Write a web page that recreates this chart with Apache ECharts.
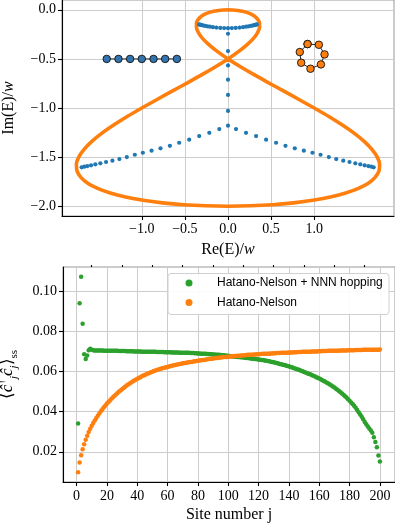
<!DOCTYPE html>
<html><head><meta charset="utf-8">
<script src="https://cdn.jsdelivr.net/npm/echarts@6/dist/echarts.min.js"></script>
<style>html,body{margin:0;padding:0;background:#fff}#c{width:395px;height:524px}</style>
</head><body><div id="c"></div>
<script>
// ---- top panel: complex spectrum ----
const pbcRe = [0,-0.086,-0.168,-0.241,-0.301,-0.343,-0.366,-0.366,-0.342,-0.293,-0.219,-0.121,0,0.140,0.297,0.466,0.643,0.823,1.0,1.170,1.327,1.466,1.583,1.672,1.732,1.759,1.751,1.707,1.628,1.513,1.366,1.189,0.985,0.759,0.516,0.261,0,
 -0.261,-0.516,-0.759,-0.985,-1.189,-1.366,-1.513,-1.628,-1.707,-1.751,-1.759,-1.732,-1.672,-1.583,-1.466,-1.327,-1.170,-1.0,-0.823,-0.643,-0.466,-0.297,-0.140,0,0.121,0.219,0.293,0.342,0.366,0.366,0.343,0.301,0.241,0.168,0.086,0];
const pbcIm = [0,-0.004,-0.015,-0.034,-0.060,-0.094,-0.134,-0.181,-0.234,-0.293,-0.357,-0.426,-0.5,-0.577,-0.658,-0.741,-0.826,-0.913,-1.0,-1.087,-1.174,-1.259,-1.342,-1.423,-1.5,-1.574,-1.643,-1.707,-1.766,-1.819,-1.866,-1.906,-1.940,-1.966,-1.985,-1.996,-2.0,
 -1.996,-1.985,-1.966,-1.940,-1.906,-1.866,-1.819,-1.766,-1.707,-1.643,-1.574,-1.5,-1.423,-1.342,-1.259,-1.174,-1.087,-1.0,-0.913,-0.826,-0.741,-0.658,-0.577,-0.5,-0.426,-0.357,-0.293,-0.234,-0.181,-0.134,-0.094,-0.060,-0.034,-0.015,-0.004,0];

const arcRe = [-0.335,-0.327,-0.316,-0.302,-0.285,-0.265,-0.24,-0.21,-0.175,-0.135,-0.09,-0.045,0,0.045,0.09,0.135,0.175,0.21,0.24,0.265,0.285,0.302,0.316,0.327,0.335];
const arcIm = [-0.149,-0.151,-0.153,-0.156,-0.160,-0.163,-0.168,-0.172,-0.177,-0.181,-0.184,-0.186,-0.187,-0.186,-0.184,-0.181,-0.177,-0.172,-0.168,-0.163,-0.160,-0.156,-0.153,-0.151,-0.149];
const stemRe = [0,0,0,0,0,0,0];
const stemIm = [-0.244,-0.42,-0.566,-0.711,-0.867,-1.03,-1.18];
const rightBranchRe = [0.093,0.209,0.326,0.442,0.558,0.667,0.775,0.88,0.98,1.074,1.17,1.256,1.337,1.41,1.477,1.535,1.585,1.628,1.663,1.69];
const leftBranchRe = [-0.101,-0.217,-0.334,-0.45,-0.566,-0.674,-0.783,-0.887,-0.988,-1.081,-1.174,-1.26,-1.341,-1.415,-1.481,-1.539,-1.589,-1.632,-1.667,-1.698];
const branchIm = [-1.215,-1.253,-1.286,-1.323,-1.354,-1.385,-1.411,-1.435,-1.456,-1.476,-1.50,-1.52,-1.537,-1.55,-1.563,-1.574,-1.584,-1.591,-1.598,-1.604];

const chainRe = [-1.407,-1.271,-1.136,-1.0,-0.864,-0.729,-0.593];
const chainIm = [-0.5,-0.5,-0.5,-0.5,-0.5,-0.5,-0.5];
const ringRe = [0.923,1.054,1.120,1.078,0.957,0.849,0.833,0.923];
const ringIm = [-0.349,-0.356,-0.454,-0.556,-0.600,-0.539,-0.430,-0.349];

const topXTicks = [-1,-0.5,0,0.5,1];
const topYTicks = [0,-0.5,-1,-1.5,-2];

// ---- bottom panel: steady-state occupation ----
const siteTicks = [0,20,40,60,80,100,120,140,160,180,200];
const siteMinorTicks = [10,30,50,70,90,110,130,150,170,190];
const ssTicks = [0.02,0.04,0.06,0.08,0.10];
const legendNames = ['Hatano-Nelson + NNN hopping','Hatano-Nelson'];

const greenSS = [
0.0341,0.0940,0.1072,0.0838,0.0686,0.0662,0.0680,0.0706,0.0714,0.0709,
0.0706,0.0705,0.0705,0.0705,0.0705,0.0705,0.0705,0.0704,0.0704,0.0704,
0.0704,0.0704,0.0703,0.0703,0.0703,0.0703,0.0703,0.0702,0.0702,0.0702,
0.0702,0.0702,0.0701,0.0701,0.0701,0.0701,0.0701,0.0700,0.0700,0.0700,
0.0700,0.0700,0.0699,0.0699,0.0699,0.0699,0.0699,0.0698,0.0698,0.0698,
0.0698,0.0698,0.0697,0.0697,0.0697,0.0697,0.0697,0.0696,0.0696,0.0696,
0.0696,0.0696,0.0695,0.0695,0.0695,0.0695,0.0695,0.0694,0.0694,0.0694,
0.0694,0.0693,0.0693,0.0693,0.0692,0.0692,0.0692,0.0691,0.0691,0.0690,
0.0690,0.0689,0.0689,0.0688,0.0688,0.0687,0.0687,0.0686,0.0686,0.0685,
0.0685,0.0684,0.0683,0.0683,0.0682,0.0681,0.0681,0.0680,0.0679,0.0678,
0.0677,0.0676,0.0675,0.0675,0.0674,0.0673,0.0672,0.0671,0.0671,0.0670,
0.0669,0.0668,0.0667,0.0666,0.0665,0.0664,0.0663,0.0662,0.0661,0.0660,
0.0659,0.0658,0.0657,0.0655,0.0654,0.0652,0.0651,0.0649,0.0647,0.0646,
0.0644,0.0642,0.0640,0.0638,0.0636,0.0634,0.0632,0.0630,0.0628,0.0626,
0.0623,0.0621,0.0618,0.0615,0.0613,0.0610,0.0607,0.0604,0.0601,0.0598,
0.0595,0.0592,0.0589,0.0586,0.0583,0.0579,0.0576,0.0572,0.0569,0.0565,
0.0561,0.0557,0.0553,0.0549,0.0544,0.0540,0.0535,0.0530,0.0525,0.0520,
0.0514,0.0509,0.0503,0.0497,0.0491,0.0484,0.0477,0.0470,0.0462,0.0454,
0.0446,0.0438,0.0429,0.0420,0.0408,0.0397,0.0386,0.0374,0.0362,0.0349,
0.0337,0.0326,0.0316,0.0306,0.0295,0.0272,0.0249,0.0222,0.0182,0.0152];

const orangeSS = [
0.0098,0.0146,0.0183,0.0212,0.0238,0.0260,0.0280,0.0298,0.0315,0.0330,
0.0344,0.0356,0.0368,0.0380,0.0391,0.0402,0.0412,0.0422,0.0431,0.0440,
0.0448,0.0456,0.0464,0.0472,0.0479,0.0486,0.0493,0.0500,0.0506,0.0512,
0.0518,0.0524,0.0530,0.0535,0.0540,0.0545,0.0550,0.0555,0.0559,0.0564,
0.0568,0.0572,0.0576,0.0580,0.0583,0.0587,0.0590,0.0593,0.0596,0.0599,
0.0602,0.0605,0.0607,0.0610,0.0612,0.0615,0.0617,0.0619,0.0621,0.0623,
0.0625,0.0627,0.0629,0.0631,0.0633,0.0634,0.0636,0.0638,0.0639,0.0641,
0.0642,0.0643,0.0645,0.0646,0.0647,0.0648,0.0650,0.0651,0.0652,0.0654,
0.0655,0.0656,0.0657,0.0658,0.0659,0.0661,0.0662,0.0663,0.0664,0.0665,
0.0666,0.0667,0.0668,0.0669,0.0670,0.0671,0.0672,0.0672,0.0673,0.0674,
0.0675,0.0675,0.0676,0.0677,0.0677,0.0678,0.0679,0.0679,0.0680,0.0681,
0.0681,0.0682,0.0683,0.0683,0.0684,0.0684,0.0685,0.0685,0.0686,0.0686,
0.0687,0.0687,0.0688,0.0688,0.0689,0.0689,0.0689,0.0690,0.0690,0.0691,
0.0691,0.0692,0.0692,0.0692,0.0693,0.0693,0.0694,0.0694,0.0694,0.0695,
0.0695,0.0695,0.0696,0.0696,0.0696,0.0697,0.0697,0.0697,0.0698,0.0698,
0.0698,0.0699,0.0699,0.0699,0.0700,0.0700,0.0700,0.0700,0.0701,0.0701,
0.0701,0.0702,0.0702,0.0702,0.0702,0.0703,0.0703,0.0703,0.0703,0.0704,
0.0704,0.0704,0.0704,0.0705,0.0705,0.0705,0.0705,0.0705,0.0706,0.0706,
0.0706,0.0706,0.0706,0.0707,0.0707,0.0707,0.0707,0.0707,0.0708,0.0708,
0.0708,0.0708,0.0708,0.0708,0.0709,0.0709,0.0709,0.0709,0.0709,0.0710];

// ---- build ----
const SERIF = "'Liberation Serif','Times New Roman',serif";
const SANS = "'Liberation Sans',Arial,sans-serif";
const zip = (a, b) => a.map((v, i) => [v, b[i]]);
const fmt1 = v => (v < 0 ? '\u2212' : '') + Math.abs(v).toFixed(1);
const fmt2 = v => v.toFixed(2);
const gridLineStyle = {color: '#cccccc', width: 1, type: 'solid'};

function axisBase(extra) {
  return Object.assign({
    type: 'value',
    axisLine: {show: true, onZero: false, lineStyle: {color: '#000', width: 1.1}},
    splitLine: {show: false},
  }, extra);
}
function tickCfg(vals, len) {
  return {show: true, inside: false, length: len, customValues: vals, lineStyle: {color: '#000', width: 1.1}};
}
function labelCfg(vals, fmt, margin) {
  return {show: true, customValues: vals, formatter: fmt, margin: margin, fontFamily: SERIF, fontSize: 14, color: '#000'};
}
function gridMarks(xs, ys) {
  return {
    silent: true, z: 0, symbol: ['none', 'none'], label: {show: false},
    lineStyle: gridLineStyle, emphasis: {disabled: true}, animation: false,
    data: xs.map(v => ({xAxis: v})).concat(ys.map(v => ({yAxis: v})))
  };
}
const nameRich = {
  r: {fontFamily: SERIF, fontSize: 16, color: '#000'},
  i: {fontFamily: SERIF, fontSize: 16, fontStyle: 'italic', color: '#000'}
};
const ssRich = {
  m: {fontFamily: SERIF, fontSize: 17, color: '#000', lineHeight: 24},
  c: {fontFamily: SERIF, fontSize: 17, fontStyle: 'italic', color: '#000', lineHeight: 24},
  sup: {fontFamily: SERIF, fontSize: 11, color: '#000', lineHeight: 11, verticalAlign: 'top'},
  sub: {fontFamily: SERIF, fontSize: 11, fontStyle: 'italic', color: '#000', lineHeight: 11, verticalAlign: 'bottom'},
  subr: {fontFamily: SERIF, fontSize: 11, color: '#000', lineHeight: 11, verticalAlign: 'bottom'}
};

const obcPts = zip(arcRe, arcIm).concat(zip(stemRe, stemIm), zip(rightBranchRe, branchIm), zip(leftBranchRe, branchIm));
const sites = greenSS.map((_, i) => i + 1);

const chart = echarts.init(document.getElementById('c'), null, {renderer: 'canvas'});
chart.setOption({
  animation: false,
  backgroundColor: '#fff',
  grid: [
    {left: 62, top: 0, width: 332, height: 216, show: true, borderColor: '#999', borderWidth: 1, containLabel: false, outerBoundsMode: 'none'},
    {left: 63, top: 267, width: 332, height: 215, show: true, borderColor: '#999', borderWidth: 1, containLabel: false, outerBoundsMode: 'none'}
  ],
  xAxis: [
    axisBase({gridIndex: 0, min: -1.926, max: 1.926,
      axisTick: tickCfg(topXTicks, 4), axisLabel: labelCfg(topXTicks, fmt1, 6),
      name: '{r|Re(E)/}{i|w}', nameLocation: 'middle', nameGap: 26, nameTextStyle: {rich: nameRich}}),
    axisBase({gridIndex: 1, min: -8.95, max: 209.95,
      axisTick: tickCfg(siteTicks, 4), axisLabel: labelCfg(siteTicks, v => String(v), 7),
      name: '{r|Site number j}', nameLocation: 'middle', nameGap: 25, nameTextStyle: {rich: nameRich}}),
    axisBase({gridIndex: 1, min: -8.95, max: 209.95, axisLine: {show: false},
      axisTick: tickCfg(siteMinorTicks, 2), axisLabel: {show: false}})
  ],
  yAxis: [
    axisBase({gridIndex: 0, min: -2.1, max: 0.1,
      axisTick: tickCfg(topYTicks, 4), axisLabel: labelCfg(topYTicks, fmt1, 6),
      name: '{r|Im(E)/}{i|w}', nameLocation: 'middle', nameRotate: 90, nameGap: 45, nameTextStyle: {rich: nameRich}}),
    axisBase({gridIndex: 1, min: 0.00493, max: 0.1121,
      axisTick: tickCfg(ssTicks, 4), axisLabel: labelCfg(ssTicks, fmt2, 6),
      name: '{m|\u27E8}{c|\u0109}{sup|\u2020}{sub|j}{c|\u0109}{sub|j}{m|\u27E9}{subr|ss}', nameLocation: 'middle', nameRotate: 90, nameGap: 43, nameTextStyle: {rich: ssRich}})
  ],
  legend: {
    data: legendNames, orient: 'vertical', left: 185.5, top: 276, padding: 0,
    itemWidth: 46, itemHeight: 7, itemGap: 5.5, icon: 'circle', selectedMode: false, z: 100,
    textStyle: {fontFamily: SANS, fontSize: 12, color: '#000', lineHeight: 14}
  },
  graphic: [{
    type: 'rect', silent: true, z: 90,
    shape: {x: 168, y: 273.5, width: 221, height: 41, r: 3},
    style: {fill: 'rgba(255,255,255,0.92)', stroke: '#d0d0d0', lineWidth: 1}
  }],
  series: [
    {type: 'line', xAxisIndex: 0, yAxisIndex: 0, data: [], silent: true, z: 0, markLine: gridMarks(topXTicks, topYTicks)},
    {type: 'line', xAxisIndex: 1, yAxisIndex: 1, data: [], silent: true, z: 0, markLine: gridMarks(siteTicks, ssTicks)},
    {type: 'line', name: 'PBC', xAxisIndex: 0, yAxisIndex: 0, data: zip(pbcRe, pbcIm), smooth: 0.3,
      showSymbol: false, symbol: 'none', lineStyle: {color: '#ff7f0e', width: 3.6}, z: 2, silent: true},
    {type: 'scatter', name: 'OBC', xAxisIndex: 0, yAxisIndex: 0, data: obcPts, symbolSize: 4.2,
      itemStyle: {color: '#1f77b4', opacity: 1}, z: 3, silent: true},
    {type: 'line', name: 'chain', xAxisIndex: 0, yAxisIndex: 0, data: zip(chainRe, chainIm),
      symbol: 'circle', symbolSize: 7.5, showSymbol: true, lineStyle: {color: '#111', width: 0.9},
      itemStyle: {color: '#3274b0', borderColor: '#111', borderWidth: 0.9, opacity: 1}, z: 4, silent: true},
    {type: 'line', name: 'ring', xAxisIndex: 0, yAxisIndex: 0, data: zip(ringRe, ringIm),
      symbol: 'circle', symbolSize: 7.5, showSymbol: true, lineStyle: {color: '#111', width: 0.9},
      itemStyle: {color: '#ff7f0e', borderColor: '#111', borderWidth: 0.9, opacity: 1}, z: 4, silent: true},
    {type: 'scatter', name: legendNames[0], xAxisIndex: 1, yAxisIndex: 1, data: zip(sites, greenSS),
      symbol: 'circle', symbolSize: 4.5, itemStyle: {color: '#2ca02c', opacity: 1}, z: 2, silent: true},
    {type: 'scatter', name: legendNames[1], xAxisIndex: 1, yAxisIndex: 1, data: zip(sites, orangeSS),
      symbol: 'circle', symbolSize: 4.5, itemStyle: {color: '#ff7f0e', opacity: 1}, z: 3, silent: true}
  ]
});
</script></body></html>
